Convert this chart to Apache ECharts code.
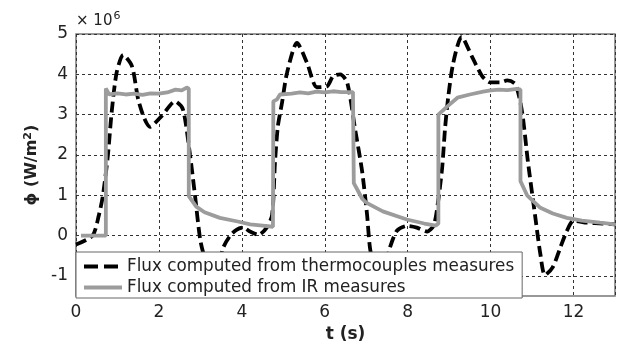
<!DOCTYPE html>
<html>
<head>
<meta charset="utf-8">
<script src="https://cdn.jsdelivr.net/npm/echarts@6/dist/echarts.min.js"></script>
<style>
  html, body { margin: 0; padding: 0; background: #fff; }
  #chart { width: 619px; height: 348px; }
</style>
</head>
<body>
<div id="chart"></div>
<script>
// flux values in units of 10^6 W/m2
var tcTime = [0, 0.4, 0.55, 0.65, 0.77, 0.86, 0.98, 1.14, 1.35, 1.5, 1.65, 1.78, 2.07, 2.39, 2.58, 2.75, 2.87, 3.0, 3.15, 3.3, 3.45, 3.55, 3.72, 3.88, 4.03, 4.2, 4.4, 4.6, 4.73, 4.8, 4.87, 4.97, 5.09, 5.33, 5.57, 5.81, 6.05, 6.2, 6.37, 6.54, 6.73, 6.9, 7.02, 7.09, 7.2, 7.35, 7.5, 7.57, 7.74, 7.98, 8.22, 8.47, 8.62, 8.7, 8.83, 8.9, 8.98, 9.1, 9.3, 9.55, 9.8, 9.99, 10.23, 10.4, 10.6, 10.76, 10.9, 11.07, 11.2, 11.31, 11.5, 11.68, 11.84, 12.0, 12.33, 12.7, 13.0];
var tcFlux = [-0.22, 0.0, 0.5, 1.0, 2.0, 3.06, 4.04, 4.48, 4.2, 3.38, 2.9, 2.7, 2.97, 3.33, 3.13, 2.0, 1.0, -0.12, -0.7, -0.95, -0.7, -0.3, 0.0, 0.15, 0.2, 0.1, 0.02, 0.2, 0.51, 1.83, 2.72, 3.3, 4.04, 4.78, 4.29, 3.68, 3.7, 3.95, 4.0, 3.8, 2.65, 1.6, 0.52, -0.3, -0.8, -0.95, -0.6, -0.3, 0.12, 0.24, 0.2, 0.1, 0.24, 0.6, 1.67, 2.65, 3.46, 4.29, 4.93, 4.44, 3.95, 3.8, 3.8, 3.85, 3.75, 3.06, 1.83, 0.52, -0.46, -0.98, -0.78, -0.3, 0.12, 0.37, 0.32, 0.3, 0.28];

var irTime = [0.12, 0.72, 0.72, 0.8, 1.0, 1.2, 1.4, 1.6, 1.8, 2.0, 2.2, 2.4, 2.55, 2.67, 2.72, 2.72, 2.9, 3.1, 3.47, 3.9, 4.2, 4.5, 4.75, 4.76, 4.85, 4.92, 5.2, 5.4, 5.6, 5.8, 6.0, 6.2, 6.4, 6.68, 6.7, 6.78, 6.9, 7.0, 7.4, 7.98, 8.4, 8.68, 8.74, 8.74, 8.95, 9.2, 9.5, 9.82, 10.0, 10.2, 10.4, 10.64, 10.72, 10.72, 10.88, 11.2, 11.5, 11.84, 12.2, 12.64, 13.0];
var irFlux = [0.0, 0.0, 3.65, 3.5, 3.53, 3.5, 3.52, 3.49, 3.53, 3.52, 3.55, 3.62, 3.6, 3.67, 3.65, 0.98, 0.72, 0.58, 0.44, 0.35, 0.28, 0.25, 0.22, 3.33, 3.38, 3.5, 3.52, 3.55, 3.53, 3.57, 3.55, 3.58, 3.56, 3.56, 1.3, 1.15, 0.92, 0.82, 0.6, 0.4, 0.3, 0.25, 0.3, 3.0, 3.2, 3.42, 3.5, 3.57, 3.6, 3.62, 3.61, 3.64, 3.62, 1.35, 1.0, 0.69, 0.55, 0.44, 0.37, 0.32, 0.28];

var xTicks = [0, 2, 4, 6, 8, 10, 12];
var yTicks = [-1, 0, 1, 2, 3, 4, 5];

var tcName = 'Flux computed from thermocouples measures';
var irName = 'Flux computed from IR measures';

function pairs(xs, ys) {
  return xs.map(function (x, i) { return [x, ys[i]]; });
}

var chart = echarts.init(document.getElementById('chart'));

var font = 'DejaVu Sans';

var option = {
  animation: false,
  backgroundColor: '#fff',
  title: {
    text: '× 10{sup|6}',
    left: 71,
    top: 6,
    textStyle: {
      fontFamily: font, fontSize: 15, fontWeight: 'normal', color: '#222',
      rich: { sup: { fontFamily: font, fontSize: 11, color: '#222', verticalAlign: 'top', padding: [0, 0, 10, 1] } }
    }
  },
  grid: {
    left: 76, right: 4, top: 34, bottom: 49,
    show: true, borderColor: '#777', borderWidth: 1.5
  },
  legend: {
    orient: 'vertical',
    left: 76, top: 252,
    backgroundColor: '#fff',
    borderColor: '#666', borderWidth: 1, borderRadius: 0,
    padding: [6, 8, 2, 6],
    itemGap: 4,
    itemWidth: 38, itemHeight: 14,
    itemStyle: { opacity: 0 },
    textStyle: { fontFamily: font, fontSize: 16.8, color: '#222' },
    data: [
      { name: tcName, lineStyle: { type: [14, 6], width: 4 } },
      { name: irName, lineStyle: { width: 4 } }
    ]
  },
  xAxis: {
    type: 'value',
    min: 0, max: 13, interval: 2,
    name: 't (s)',
    nameLocation: 'middle',
    nameGap: 24,
    nameTextStyle: { fontFamily: font, fontSize: 17, fontWeight: 'bold', color: '#222' },
    axisLine: { show: false },
    axisTick: { show: false },
    axisLabel: {
      fontFamily: font, fontSize: 17, color: '#222', margin: 8,
      formatter: function (v) { return xTicks.indexOf(v) >= 0 ? String(v) : ''; }
    },
    splitLine: { show: true, lineStyle: { color: '#333', width: 1, type: [3, 3] } }
  },
  yAxis: {
    type: 'value',
    min: -1.5, max: 5, interval: 0.5,
    name: 'ϕ (W/m{sup|2})',
    nameLocation: 'middle',
    nameGap: 27,
    nameTextStyle: {
      fontFamily: font, fontSize: 16, fontWeight: 'bold', color: '#222',
      rich: { sup: { fontFamily: font, fontSize: 11, fontWeight: 'bold', color: '#222', verticalAlign: 'top', padding: [0, 0, 8, 0] } }
    },
    axisLine: { show: false },
    axisTick: { show: false },
    axisLabel: {
      fontFamily: font, fontSize: 17, color: '#222', margin: 8,
      formatter: function (v) { return yTicks.indexOf(v) >= 0 ? String(v) : ''; }
    },
    // only every other line (the integer ticks) is visible
    splitLine: { show: true, lineStyle: { color: ['rgba(0,0,0,0)', '#333'], width: 1, type: [3, 3] } }
  },
  series: [
    {
      name: tcName,
      type: 'line',
      data: pairs(tcTime, tcFlux),
      symbol: 'none',
      smooth: 0.25,
      z: 2,
      lineStyle: { color: '#000', width: 3.8, type: [11, 5] },
      itemStyle: { color: '#000' }
    },
    {
      name: irName,
      type: 'line',
      data: pairs(irTime, irFlux),
      symbol: 'none',
      z: 3,
      lineStyle: { color: '#9c9c9c', width: 3.8 },
      itemStyle: { color: '#9c9c9c' }
    }
  ]
};

chart.setOption(option);
</script>
</body>
</html>
